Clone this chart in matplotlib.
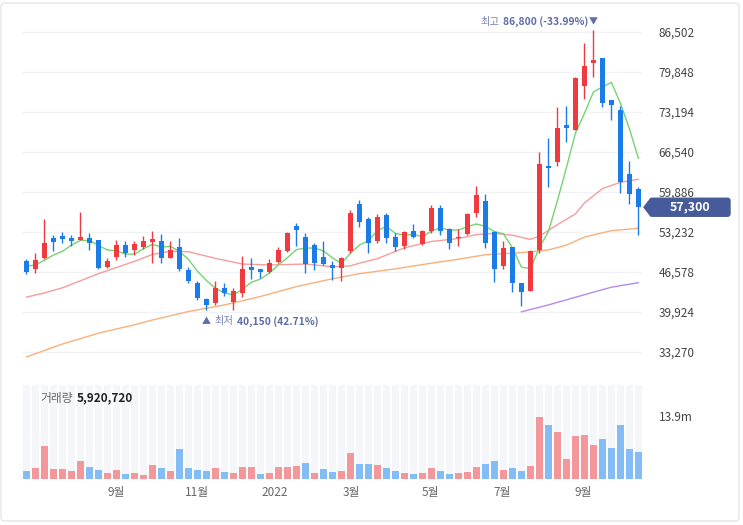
import matplotlib
matplotlib.use('Agg')
import matplotlib.pyplot as plt
import matplotlib.patches as patches
import matplotlib.transforms as mtrans
import numpy as np
import pandas as pd

plt.rcParams['font.family'] = ['Noto Sans CJK KR', 'DejaVu Sans']

# weekly candles, late Jun 2021 .. mid Oct 2022 (69 weeks)
opens = [48350, 47000, 48850, 52200, 52500, 52200, 51850, 52200, 51850, 47350,
         49000, 51000, 50200, 50700, 51500, 51700, 48850, 50700, 46850, 44700,
         42050, 41350, 43850, 41550, 43050, 47350, 47000, 46550, 48200, 50000,
         54200, 52350, 51000, 49000, 47700, 47200, 50000, 57850, 55350, 51700,
         56000, 52350, 50850, 53350, 51200, 53350, 57150, 53700, 52200, 52850,
         56350, 58350, 53200, 47500, 50700, 44700, 43350, 50200, 64150, 64850,
         71000, 70150, 77450, 81350, 82100, 75150, 73500, 62850, 60350]
highs = [48700, 49700, 55350, 52700, 53200, 52700, 56500, 53000, 51900, 48850,
         51850, 51700, 51700, 52500, 53350, 52850, 51700, 52200, 47350, 45050,
         42200, 45050, 44700, 43850, 49200, 48850, 47050, 48700, 50700, 53200,
         54700, 53000, 51350, 51700, 48350, 49000, 56850, 58500, 55700, 56200,
         56350, 53000, 53350, 54500, 53500, 57650, 57650, 53850, 53700, 56350,
         60850, 59500, 53350, 51700, 50750, 44750, 50200, 66500, 68800, 74000,
         74150, 78900, 84600, 86800, 82150, 75200, 74150, 65000, 60650]
lows = [46200, 46350, 48700, 50000, 51350, 50850, 51800, 50200, 47000, 47200,
        48500, 49000, 49350, 50350, 48000, 48000, 48800, 46700, 44700, 41850,
        40150, 41050, 42550, 40200, 42350, 45350, 45550, 46350, 48000, 49850,
        50850, 46350, 46850, 47700, 45200, 45050, 49700, 54000, 49700, 51350,
        51350, 50000, 50350, 52200, 51000, 53000, 52700, 50350, 50850, 52700,
        55700, 50500, 44850, 47000, 43200, 40900, 43300, 49700, 60650, 64150,
        68150, 70100, 75300, 78950, 74000, 71800, 59650, 57850, 52700]
closes = [46550, 48500, 51350, 51500, 52000, 51700, 52350, 51350, 47200, 48350,
          51000, 49700, 51200, 51700, 52000, 48850, 50200, 47000, 45050, 42200,
          41050, 43850, 43050, 43350, 47000, 46850, 46550, 48000, 50200, 53000,
          53500, 47850, 48000, 47850, 47200, 48850, 56350, 54850, 51350, 55700,
          52200, 50700, 53200, 52350, 53350, 57150, 53350, 51350, 52350, 56200,
          59350, 51350, 47000, 50500, 44700, 43200, 50000, 64500, 63850, 70500,
          70500, 78800, 80800, 81800, 74650, 74300, 61500, 59500, 57300]
# volume in millions of shares
volumes = [1.8, 2.4, 7.3, 2.2, 2.2, 1.8, 4.1, 2.7, 2.0, 1.3,
           2.0, 1.0, 1.3, 0.8, 3.1, 2.4, 1.8, 6.7, 2.4, 2.0,
           1.8, 2.4, 1.6, 1.3, 2.7, 2.7, 1.0, 1.3, 2.7, 2.7,
           2.9, 3.6, 1.3, 2.2, 1.6, 1.8, 5.7, 3.4, 3.4, 3.1,
           2.5, 1.8, 1.3, 1.0, 1.3, 2.5, 1.8, 1.0, 1.3, 1.6,
           2.7, 3.4, 4.1, 2.0, 2.4, 1.8, 2.9, 13.7, 11.9, 10.5,
           4.5, 9.5, 9.8, 7.5, 8.9, 6.8, 11.9, 6.6, 5.92]
vol_dir = list("BRRRRRRBBR" "RBRRRBRBBB" "BRBRRRBRRR" "RBRBBRRBBR"
               "BBRBRRBBRR" "RBBRBBRRBR" "RRRRBBBBB")
last_volume = 5920720

# moving averages (earlier weeks not shown)
ma5_head = [47500, 47700, 48500, 49350]
ma20_idx = [0, 2, 4, 8, 12, 14, 16, 18, 21, 24, 27, 31, 34, 36, 37, 39, 42, 45,
            48, 50, 52, 54, 56, 57, 59, 61, 62, 64, 66, 68]
ma20_val = [42350, 43050, 43900, 46250, 48300, 49450, 50000, 49900, 48800, 47850,
            47700, 47850, 47400, 47550, 48000, 48750, 50550, 51600, 52100, 52750,
            52950, 52650, 51950, 52500, 54400, 56200, 58000, 60400, 61450, 61950]
ma60_idx = [0, 4, 8, 12, 14, 18, 22, 26, 30, 34, 37, 41, 45, 48, 51, 55, 58, 60,
            62, 65, 68]
ma60_val = [32400, 34550, 36350, 37750, 38550, 39950, 41050, 42450, 44100, 45400,
            46250, 47050, 48000, 48650, 49400, 49750, 50200, 51000, 52350, 53400,
            53800]
ma120_idx = [55, 58, 62, 65, 68]
ma120_val = [39900, 41050, 42750, 44000, 44750]

price_ticks = [33270, 39924, 46578, 53232, 59886, 66540, 73194, 79848, 86502]
month_pos = [10.0, 19.0, 27.6, 36.1, 44.9, 52.9, 61.9]
month_labels = ['9월', '11월', '2022', '3월', '5월', '7월', '9월']

RED = '#ef3a3f'
BLUE = '#1b7ce8'
W, H = 743, 525

fig = plt.figure(figsize=(W / 100, H / 100), dpi=100)
ax = fig.add_axes([22 / W, 1 - 365 / H, 620 / W, 350 / H])
axv = fig.add_axes([22 / W, 1 - 479 / H, 620 / W, 94 / H])

x = np.arange(len(closes))
o = np.array(opens)
c = np.array(closes)
up = c >= o
cols = np.where(up, RED, BLUE)

for t in price_ticks:
    ax.axhline(t, color='#f0f2f6', lw=1, zorder=0)

# moving averages
ma5 = pd.Series(closes, dtype=float).rolling(5).mean().to_numpy()
ma5[:4] = ma5_head
ax.plot(ma120_idx, ma120_val, color='#b48cf0', lw=1, zorder=1)
ax.plot(ma60_idx, ma60_val, color='#f9b07a', lw=1, zorder=1)
ax.plot(ma20_idx, ma20_val, color='#f79c9c', lw=1, zorder=1)
ax.plot(x, ma5, color='#74d472', lw=1, zorder=1)

# candles
ax.vlines(x, lows, highs, colors=cols, lw=1, zorder=2)
body = np.maximum(np.abs(c - o), 150)
ax.bar(x, body, bottom=np.minimum(o, c), width=0.62, color=cols, lw=0, zorder=3)

ax.set_xlim(-0.5, 68.4)
ax.set_ylim(31057, 89280)
ax.set_xticks([])
ax.yaxis.tick_right()
ax.set_yticks(price_ticks, [f'{t:,}' for t in price_ticks])
ax.tick_params(axis='y', length=0, pad=12, labelsize=8.5, labelcolor='#444')
for s in ax.spines.values():
    s.set_visible(False)

# high / low markers
last = closes[-1]
hi_i = int(np.argmax(highs))
lo_i = int(np.argmin(lows))
hi = highs[hi_i]
lo = lows[lo_i]
mark_col = '#5e6da8'
fs = 7.4
t1 = ax.annotate('▼', xy=(hi_i, hi), xytext=(0, 6), textcoords='offset points',
                 ha='center', va='center', fontsize=6.5, color=mark_col)
t2 = ax.annotate(f'{hi:,} ({(last - hi) / hi * 100:.2f}%)', xy=(0, 0.5), xycoords=t1,
                 xytext=(-0.5, 0), textcoords='offset points', ha='right', va='center',
                 fontsize=fs, fontweight='bold', color=mark_col)
ax.annotate('최고', xy=(0, 0.5), xycoords=t2, xytext=(-2.5, 0), textcoords='offset points',
            ha='right', va='center', fontsize=fs, color='#7884b2')

t3 = ax.annotate('▲', xy=(lo_i, lo), xytext=(0, -8), textcoords='offset points',
                 ha='center', va='center', fontsize=6.5, color=mark_col)
t4 = ax.annotate('최저', xy=(1, 0.5), xycoords=t3, xytext=(2.5, 0), textcoords='offset points',
                 ha='left', va='center', fontsize=fs, color='#7884b2')
ax.annotate(f'{lo:,} ({(last - lo) / lo * 100:.2f}%)', xy=(1, 0.5), xycoords=t4,
            xytext=(2.5, 0), textcoords='offset points', ha='left', va='center',
            fontsize=fs, fontweight='bold', color=mark_col)

# volume panel
vtop = 20.85
axv.bar(x, vtop, width=0.86, color='#f5f6fa', lw=0, zorder=0)
vcols = ['#f4979b' if d == 'R' else '#84bdf6' for d in vol_dir]
axv.bar(x, volumes, width=0.74, color=vcols, lw=0, zorder=1)
axv.set_xlim(-0.5, 68.4)
axv.set_ylim(0, vtop)
axv.yaxis.tick_right()
axv.set_yticks([13.9], ['13.9m'])
axv.tick_params(axis='y', length=0, pad=12, labelsize=8.5, labelcolor='#444')
axv.set_xticks(month_pos, month_labels)
axv.tick_params(axis='x', length=0, pad=5, labelsize=8.5, labelcolor='#666')
for s in axv.spines.values():
    s.set_visible(False)
tv = axv.text(18 / 620, 0.86, '거래량', transform=axv.transAxes, ha='left', va='center',
              fontsize=8.5, color='#666')
axv.annotate(f'{last_volume:,}', xy=(1, 0.5), xycoords=tv, xytext=(3, 0),
             textcoords='offset points', ha='left', va='center', fontsize=8.5,
             fontweight='bold', color='#222')

# current price tag
fig.canvas.draw()
yd = ax.transData.transform((0, last))[1]
ident = mtrans.IdentityTransform()
fig.add_artist(patches.Polygon([(644, yd), (651, yd + 9), (651, yd - 9)], closed=True,
                               color='#475b9a', transform=ident))
fig.add_artist(patches.FancyBboxPatch((650, yd - 9), 80, 18,
                                      boxstyle='round,pad=0,rounding_size=2.5',
                                      color='#475b9a', transform=ident))
fig.text(690 / W, yd / H, f'{last:,}', ha='center', va='center', fontsize=9,
         fontweight='bold', color='white')

# outer frame
fig.add_artist(patches.FancyBboxPatch((1, 4), 738, 518,
                                      boxstyle='round,pad=0,rounding_size=4',
                                      fill=False, edgecolor='#e4e6eb', lw=1,
                                      transform=ident))

fig.savefig('out.png', dpi=100)
